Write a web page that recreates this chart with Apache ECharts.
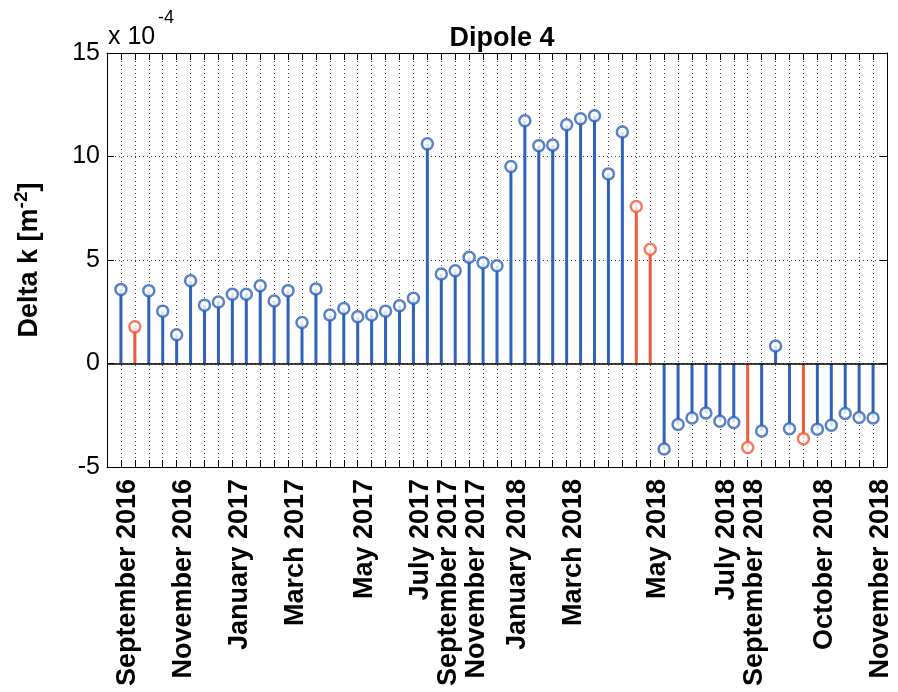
<!DOCTYPE html>
<html>
<head>
<meta charset="utf-8">
<title>Dipole 4</title>
<script src="https://cdn.jsdelivr.net/npm/echarts@6/dist/echarts.min.js"></script>
<style>
  html, body { margin: 0; padding: 0; background: #fff; }
  #chart { width: 898px; height: 692px; }
</style>
</head>
<body>
<div id="chart"></div>
<script>
// Delta k per measurement, in units of 1e-4 m^-2 (stem number = index + 1)
const deltaK = [
  3.58, 1.77, 3.52, 2.53, 1.39, 4.00, 2.82, 2.97, 3.35, 3.35,
  3.76, 3.02, 3.52, 1.98, 3.60, 2.34, 2.66, 2.26, 2.34, 2.53,
  2.79, 3.15, 10.61, 4.32, 4.48, 5.13, 4.87, 4.72, 9.52, 11.73,
  10.52, 10.55, 11.53, 11.82, 11.97, 9.16, 11.18, 7.58, 5.52, -4.13,
  -2.95, -2.63, -2.39, -2.79, -2.85, -4.06, -3.26, 0.85, -3.15, -3.63,
  -3.18, -2.98, -2.42, -2.61, -2.63
];

// Stems drawn in the highlight colour (1-based stem numbers)
const markedStems = [2, 38, 39, 46, 50];

// Date labels and the stem numbers they sit under
const tickStems = [1, 5, 9, 13, 18, 22, 24, 26, 29, 33, 39, 44, 46, 51, 55];
const tickLabels = [
  'September 2016', 'November 2016', 'January 2017', 'March 2017', 'May 2017',
  'July 2017', 'September 2017', 'November 2017', 'January 2018', 'March 2018',
  'May 2018', 'July 2018', 'September 2018', 'October 2018', 'November 2018'
];

// y axis ticks (same 1e-4 units)
const yTicks = { min: -5, max: 15, step: 5 };

const BLUE = '#2d63ba';
const RED = '#f1593b';
const FONT = 'Liberation Sans, Arial, Helvetica, sans-serif';

const colorOf = n => markedStems.includes(n) ? RED : BLUE;
const points = deltaK.map((v, i) => [i + 1, v]);

const dotted = { type: [1, 3], color: '#3a3a3a', width: 1 };
const frame = { show: true, onZero: false, lineStyle: { color: '#000', width: 1 } };
const inTicks = { show: true, inside: true, length: 7, lineStyle: { color: '#000', width: 1 } };

const chart = echarts.init(document.getElementById('chart'), null, { renderer: 'canvas' });

chart.setOption({
  animation: false,
  backgroundColor: '#fff',
  title: {
    text: 'Dipole 4',
    left: 497,
    textAlign: 'center',
    top: 20,
    textStyle: { fontFamily: FONT, fontSize: 27, fontWeight: 'bold', color: '#000' }
  },
  grid: { left: 107, right: 11, top: 53, bottom: 225, containLabel: false },
  graphic: [{
    type: 'text',
    left: 108,
    top: 25,
    style: { text: 'x 10', fontFamily: FONT, fontSize: 25, fill: '#000' }
  }, {
    type: 'text',
    left: 158,
    top: 9,
    style: { text: '-4', fontFamily: FONT, fontSize: 18, fill: '#000' }
  }],
  xAxis: [{
    type: 'value',
    position: 'bottom',
    min: 0,
    max: 56,
    interval: 1,
    axisLine: frame,
    axisTick: inTicks,
    splitLine: { show: true, lineStyle: dotted },
    axisLabel: {
      rotate: 90,
      margin: 12,
      verticalAlign: 'top',
      lineHeight: 14,
      fontFamily: FONT,
      fontSize: 27,
      fontWeight: 'bold',
      color: '#000',
      showMinLabel: true,
      showMaxLabel: true,
      formatter: v => {
        const k = tickStems.indexOf(Math.round(v));
        return k >= 0 ? tickLabels[k] : '';
      }
    }
  }, {
    type: 'value',
    position: 'top',
    min: 0,
    max: 56,
    interval: 1,
    axisLine: frame,
    axisTick: inTicks,
    axisLabel: { show: false },
    splitLine: { show: false }
  }],
  yAxis: [{
    type: 'value',
    position: 'left',
    min: yTicks.min,
    max: yTicks.max,
    interval: yTicks.step,
    axisLine: frame,
    axisTick: inTicks,
    splitLine: { show: true, lineStyle: dotted },
    axisLabel: { fontFamily: FONT, fontSize: 25, color: '#000', margin: 7 },
    name: 'Delta k [m{sup|-2}]',
    nameLocation: 'middle',
    nameRotate: 90,
    nameGap: 60,
    nameTextStyle: {
      fontFamily: FONT,
      fontSize: 27,
      fontWeight: 'bold',
      color: '#000',
      rich: { sup: { fontSize: 19, fontWeight: 'bold', fontFamily: FONT, verticalAlign: 'top', padding: [0, 0, 16, 0] } }
    }
  }, {
    type: 'value',
    position: 'right',
    min: yTicks.min,
    max: yTicks.max,
    interval: yTicks.step,
    axisLine: frame,
    axisTick: inTicks,
    axisLabel: { show: false },
    splitLine: { show: false }
  }],
  series: [{
    // stems
    type: 'bar',
    xAxisIndex: 0,
    yAxisIndex: 0,
    barWidth: 3,
    data: points.map(p => ({ value: p, itemStyle: { color: colorOf(p[0]) } })),
    markLine: {
      silent: true,
      symbol: 'none',
      label: { show: false },
      lineStyle: { color: '#000', width: 1.5, type: 'solid' },
      data: [{ yAxis: 0 }]
    },
    z: 2
  }, {
    // stem heads
    type: 'scatter',
    xAxisIndex: 0,
    yAxisIndex: 0,
    symbol: 'circle',
    symbolSize: 11,
    data: points.map(p => ({
      value: p,
      itemStyle: { color: '#fff', borderColor: colorOf(p[0]), borderWidth: 2.5 }
    })),
    z: 3
  }]
});
</script>
</body>
</html>
